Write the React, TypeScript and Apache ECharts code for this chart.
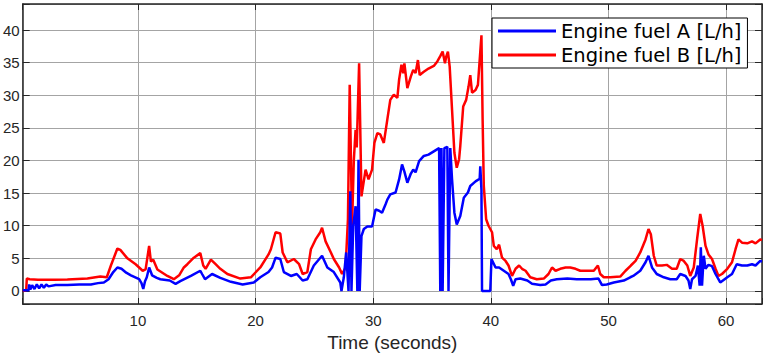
import React, { useEffect, useRef } from 'react';
import * as echarts from 'echarts';

const nameA = 'Engine fuel A [L/h]';
const nameB = 'Engine fuel B [L/h]';
const xAxisName = 'Time (seconds)';
const xTickLabels = [10, 20, 30, 40, 50, 60];
const yTickLabels = [0, 5, 10, 15, 20, 25, 30, 35, 40];

const timeA = [
  0.2, 0.7, 0.75, 0.85, 1.0, 1.2, 1.4, 1.6, 1.8, 2.0, 2.2, 2.4, 3, 4, 5, 6, 6.6, 7.1, 7.5, 7.9,
  8.25, 8.6, 9.0, 9.4, 10.1, 10.3, 10.45, 10.6, 10.75, 10.95, 11.2, 11.6, 11.9, 12.7, 13.2, 13.6, 14.5, 15.3, 15.45, 15.7,
  16.3, 17.0, 17.9, 18.9, 19.85, 20.4, 21.1, 21.4, 21.7, 22.1, 22.4, 23.0, 23.5, 24.0, 24.4, 24.95, 25.65, 26.1, 26.65, 27.2,
  27.3, 27.5, 27.7, 27.9, 28.05, 28.15, 28.3, 28.5, 28.65, 28.75, 28.85, 29.0, 29.2, 29.5, 29.9, 30.2, 30.5, 30.75, 31.05, 31.2,
  31.45, 31.9, 32.2, 32.45, 32.65, 32.9, 33.2, 33.4, 33.6, 33.9, 34.3, 34.7, 35.15, 35.6, 35.7, 35.8, 35.9, 36.05, 36.3, 36.4,
  36.55, 36.7, 36.9, 37.1, 37.4, 37.7, 38.05, 38.25, 38.7, 39.05, 39.1, 39.2, 39.25, 39.95, 40.05, 40.4, 40.7, 41.1, 41.5, 41.7,
  41.9, 42.1, 42.5, 43.1, 43.5, 44.2, 44.65, 45.1, 45.6, 46.5, 47.3, 48.5, 49.15, 49.45, 49.85, 50.45, 51.3, 51.85, 52.1, 52.7,
  53.15, 53.4, 53.7, 54.1, 54.7, 55.25, 55.8, 56.1, 56.55, 56.8, 56.95, 57.1, 57.4, 57.6, 57.75, 57.85, 57.95, 58.1, 58.25, 58.5,
  58.8, 59.1, 59.5, 60.1, 60.5, 60.9, 61.35, 61.8, 62.2, 62.5, 62.9, 63.05,
];
const fuelA = [
  0.1, 0.1, 1.0, 0.2, 0.9, 0.3, 1.0, 0.4, 1.0, 0.5, 1.0, 0.7, 0.9, 0.9, 1.0, 1.0, 1.2, 1.3, 1.8, 2.9,
  3.6, 3.4, 2.8, 2.4, 1.8, 1.2, 0.3, 1.5, 2.1, 3.6, 2.4, 2.0, 1.8, 1.6, 1.1, 1.5, 2.3, 3.1, 2.6, 1.8,
  2.6, 2.0, 1.4, 1.0, 1.3, 2.1, 2.9, 3.6, 5.1, 4.9, 2.9, 2.3, 2.6, 1.6, 1.8, 3.9, 5.4, 3.6, 2.9, 1.3,
  0, 2.1, 5.9, 0, 15.3, 0, 10, 13.0, 0, 20.1, 0, 8.4, 9.5, 9.9, 9.9, 12.5, 12.3, 12.0, 13.3, 14.0,
  14.8, 15.1, 17.1, 19.4, 18.3, 16.6, 18.0, 18.6, 18.2, 19.9, 20.7, 20.9, 21.4, 21.9, 0, 21.9, 0, 21.9, 22.1, 0,
  21.9, 17.1, 12.0, 10.2, 11.5, 14.3, 15.1, 16.1, 16.8, 17.2, 19.1, 15.5, 0, 0, 4.9, 3.6, 3.6, 3.1, 2.6, 1.8,
  0.8, 1.8, 1.9, 1.6, 1.1, 0.9, 1.0, 1.6, 1.8, 1.9, 1.8, 1.8, 1.9, 0.9, 1.0, 1.3, 1.6, 2.1, 2.3, 3.1,
  4.4, 5.4, 3.6, 2.6, 2.1, 1.8, 1.8, 2.6, 2.3, 1.6, 0.3, 1.8, 2.3, 3.9, 0.8, 6.7, 0.8, 5.4, 3.4, 4.0,
  3.8, 2.6, 1.3, 2.1, 2.6, 4.1, 3.9, 3.9, 4.1, 3.9, 4.6, 4.5,
];

const timeB = [
  0.2, 0.5, 0.55, 0.8, 1.5, 2.9, 4, 5.7, 6.8, 7.35, 7.7, 8.25, 8.5, 9.1, 9.8, 10.4, 10.65, 10.95, 11.1, 11.3,
  11.65, 12.5, 13.05, 13.5, 13.9, 14.2, 14.75, 15.3, 15.55, 15.75, 16.2, 16.6, 17.0, 17.6, 18.7, 19.6, 20.4, 21.1, 21.3, 21.7,
  22.1, 22.3, 22.7, 23.25, 23.7, 24.0, 24.4, 24.7, 25.1, 25.5, 25.65, 25.95, 26.4, 26.65, 27.1, 27.35, 27.65, 27.85, 28.0, 28.2,
  28.35, 28.5, 28.6, 28.8, 29.0, 29.35, 29.6, 29.9, 30.1, 30.35, 30.6, 30.9, 31.2, 31.45, 31.75, 32.05, 32.2, 32.4, 32.55, 32.65,
  32.9, 33.2, 33.4, 33.6, 33.8, 33.95, 34.3, 34.7, 35.15, 35.45, 35.7, 35.9, 36.1, 36.2, 36.35, 36.5, 36.7, 36.9, 37.1, 37.3,
  37.4, 37.65, 37.9, 38.1, 38.25, 38.4, 38.7, 38.9, 39.05, 39.2, 39.3, 39.4, 39.6, 39.8, 40.1, 40.25, 40.5, 40.7, 40.95, 41.25,
  41.5, 41.8, 42.1, 42.4, 42.65, 42.95, 43.35, 43.9, 44.5, 44.9, 45.2, 45.5, 45.9, 46.35, 46.75, 47.2, 47.6, 48.2, 48.75, 49.1,
  49.3, 49.6, 50.15, 51.0, 51.45, 51.9, 52.3, 52.7, 53.15, 53.4, 53.6, 53.85, 54.1, 54.55, 54.95, 55.4, 55.8, 56.1, 56.4, 56.7,
  56.95, 57.25, 57.55, 57.8, 58.0, 58.25, 58.5, 58.8, 59.1, 59.35, 59.65, 60.1, 60.5, 60.8, 61.05, 61.35, 61.8, 62.2, 62.5, 62.9,
  63.05,
];
const fuelB = [
  0, 0.1, 1.9, 1.8, 1.7, 1.7, 1.75, 1.9, 2.2, 2.1, 3.9, 6.5, 6.3, 5.0, 4.1, 3.1, 3.3, 6.9, 4.5, 4.8,
  3.3, 2.3, 1.8, 2.4, 3.6, 4.1, 5.1, 5.8, 3.9, 3.4, 4.8, 4.1, 3.4, 2.6, 1.9, 2.1, 3.6, 5.6, 6.4, 9.0,
  8.8, 5.9, 4.4, 4.9, 4.1, 2.6, 2.9, 6.4, 7.9, 9.0, 9.7, 7.6, 5.9, 4.9, 3.6, 2.6, 3.6, 11, 31.6, 10,
  20, 24.7, 22, 34.9, 14.5, 18.6, 17.1, 18.6, 22.7, 24.2, 24.0, 22.7, 26.3, 29.3, 30.1, 29.6, 32.4, 34.7, 33.4, 34.9,
  31.1, 32.9, 33.9, 33.4, 35.4, 33.1, 33.6, 34.1, 34.5, 35.2, 36.0, 36.7, 34.9, 35.9, 36.7, 34.4, 27.8, 21.2, 18.9, 20.2,
  22.2, 28.3, 29.3, 31.3, 33.1, 30.4, 30.8, 31.6, 35.4, 39.2, 26.3, 16.1, 11, 10, 9.0, 6.9, 6.4, 7.1, 5.1, 4.6,
  3.9, 2.3, 3.4, 3.9, 3.4, 3.1, 2.1, 1.8, 1.9, 2.6, 3.6, 3.1, 3.4, 3.6, 3.6, 3.4, 3.1, 3.1, 3.1, 3.9,
  2.6, 2.1, 2.1, 2.2, 3.1, 3.9, 4.6, 5.9, 7.9, 9.5, 8.7, 5.4, 3.9, 3.9, 4.0, 3.4, 3.4, 4.9, 4.6, 3.9,
  2.3, 3.6, 8.2, 11.8, 10, 6.9, 5.6, 4.9, 3.4, 2.3, 2.6, 3.4, 4.4, 6.4, 7.9, 7.4, 7.3, 7.6, 7.3, 7.9,
  7.8,
];

const X_MIN = 0.2;
const X_MAX = 63.05;
const Y_MIN = -2;
const Y_MAX = 44;

export default function App() {
  const ref = useRef<HTMLDivElement>(null);
  useEffect(() => {
    const chart = echarts.init(ref.current!, null, { renderer: 'svg' });
    const axisColor = '#262626';
    const gridColor = '#a4a4a4';
    const labelFont = 'Liberation Sans, Arial, sans-serif';
    chart.setOption({
      animation: false,
      backgroundColor: '#ffffff',
      grid: { left: 22, right: 3, top: 4, bottom: 54, containLabel: false },
      legend: {
        data: [nameA, nameB],
        orient: 'vertical',
        left: 492,
        top: 18,
        backgroundColor: '#ffffff',
        borderColor: '#000000',
        borderWidth: 1,
        borderRadius: 0,
        padding: [3, 6, 3, 6],
        itemGap: 4,
        itemWidth: 58,
        itemHeight: 3,
        icon: 'rect',
        textStyle: {
          fontFamily: 'DejaVu Sans',
          fontSize: 19.5,
          color: '#000000',
          padding: [5, 0, 0, 0],
        },
      },
      xAxis: [
        {
          type: 'value',
          min: X_MIN,
          max: X_MAX,
          splitNumber: 6,
          name: xAxisName,
          nameLocation: 'middle',
          nameGap: 28,
          nameTextStyle: { fontFamily: labelFont, fontSize: 19, color: axisColor },
          axisLine: { show: true, onZero: false, lineStyle: { color: axisColor, width: 1.5 } },
          axisTick: { show: true, inside: true, length: 6, lineStyle: { color: axisColor } },
          axisLabel: {
            margin: 9,
            fontFamily: labelFont,
            fontSize: 15,
            color: axisColor,
            formatter: (v: number) => (xTickLabels.includes(v) ? String(v) : ''),
          },
          splitLine: { show: true, lineStyle: { color: gridColor, width: 1 } },
        },
        {
          type: 'value',
          position: 'top',
          min: X_MIN,
          max: X_MAX,
          splitNumber: 6,
          axisLine: { show: true, onZero: false, lineStyle: { color: axisColor, width: 1.5 } },
          axisTick: { show: true, inside: true, length: 6, lineStyle: { color: axisColor } },
          axisLabel: { show: false },
          splitLine: { show: false },
        },
      ],
      yAxis: [
        {
          type: 'value',
          min: Y_MIN,
          max: Y_MAX,
          splitNumber: 9,
          axisLine: { show: true, onZero: false, lineStyle: { color: axisColor, width: 1.5 } },
          axisTick: { show: true, inside: true, length: 7, lineStyle: { color: axisColor } },
          axisLabel: {
            margin: 3,
            fontFamily: labelFont,
            fontSize: 15,
            color: axisColor,
            formatter: (v: number) => (yTickLabels.includes(v) ? String(v) : ''),
          },
          splitLine: { show: true, lineStyle: { color: gridColor, width: 1 } },
        },
        {
          type: 'value',
          position: 'right',
          min: Y_MIN,
          max: Y_MAX,
          splitNumber: 9,
          axisLine: { show: true, onZero: false, lineStyle: { color: axisColor, width: 1.5 } },
          axisTick: { show: true, inside: true, length: 7, lineStyle: { color: axisColor } },
          axisLabel: { show: false },
          splitLine: { show: false },
        },
      ],
      series: [
        {
          name: nameB,
          type: 'line',
          xAxisIndex: 0,
          yAxisIndex: 0,
          showSymbol: false,
          symbol: 'none',
          data: timeB.map((t, i) => [t, fuelB[i]]),
          lineStyle: { color: '#ff0000', width: 2.5 },
          itemStyle: { color: '#ff0000' },
        },
        {
          name: nameA,
          type: 'line',
          xAxisIndex: 0,
          yAxisIndex: 0,
          showSymbol: false,
          symbol: 'none',
          data: timeA.map((t, i) => [t, fuelA[i]]),
          lineStyle: { color: '#0000ff', width: 2.5 },
          itemStyle: { color: '#0000ff' },
        },
      ],
    });
    return () => chart.dispose();
  }, []);
  return (
    <div
      ref={ref}
      style={{ position: 'fixed', left: 0, top: 0, width: 765, height: 358, background: '#fff' }}
    />
  );
}
